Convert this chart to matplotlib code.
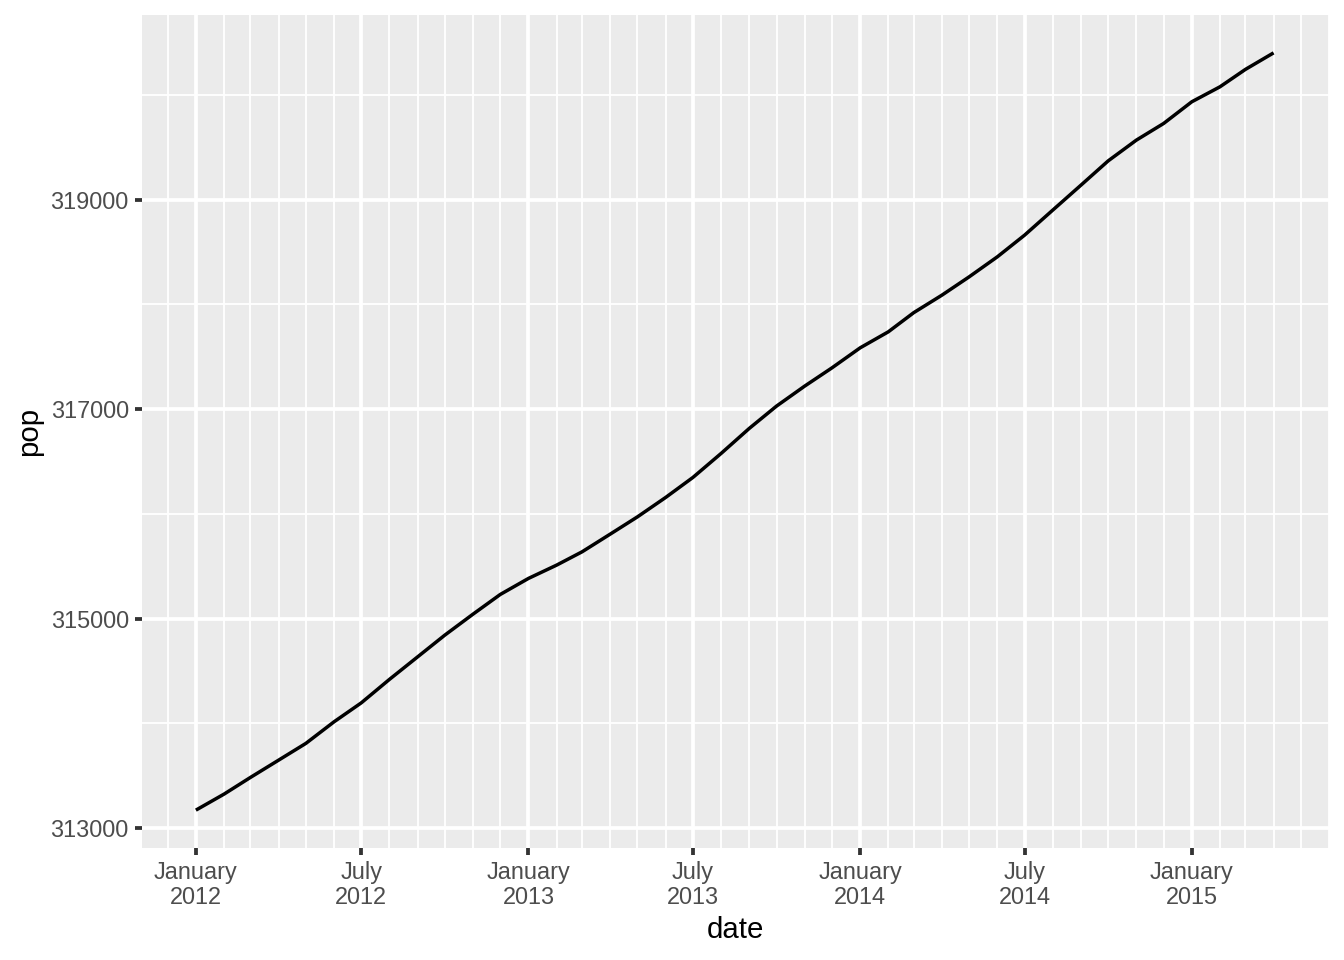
import matplotlib
matplotlib.use("Agg")
import matplotlib.pyplot as plt
import matplotlib.dates as mdates
import pandas as pd
import numpy as np

# ---- data ----
months = pd.date_range("2012-01-01", "2015-04-01", freq="MS")
pop = [313172, 313325, 313484, 313649, 313809, 314015, 314196, 314420,
       314635, 314843, 315043, 315231, 315384, 315511, 315638, 315807,
       315972, 316157, 316348, 316577, 316816, 317029, 317220, 317394,
       317585, 317738, 317921, 318088, 318263, 318454, 318661, 318900,
       319138, 319370, 319568, 319727, 319934, 320077, 320243, 320401]
x_major = pd.to_datetime(["2012-01-01", "2012-07-01", "2013-01-01", "2013-07-01",
                          "2014-01-01", "2014-07-01", "2015-01-01"])
x_labels = ["January\n2012", "July\n2012", "January\n2013", "July\n2013",
            "January\n2014", "July\n2014", "January\n2015"]
x_minor = pd.date_range("2011-12-01", "2015-06-01", freq="MS")
y_major = [313000, 315000, 317000, 319000]
y_minor = [314000, 316000, 318000, 320000]
x_title = "date"
y_title = "pop"

plt.rcParams["font.family"] = ["Liberation Sans", "DejaVu Sans"]
pt = 72.27 / 25.4  # ggplot mm -> pt

fig = plt.figure(figsize=(7, 5), dpi=192)
ax = fig.add_axes([142/1344, 1 - 848/960, (1329-142)/1344, (848-15)/960])
ax.set_facecolor("#EBEBEB")
for s in ax.spines.values():
    s.set_visible(False)

ax.plot(months, pop, color="black", lw=1.3, solid_capstyle="butt", zorder=3)
ax.margins(x=0.05, y=0.05)

ax.set_xticks(x_major)
ax.set_xticklabels(x_labels, linespacing=1.1)
ax.set_xticks(x_minor, minor=True)
ax.set_yticks(y_major)
ax.set_yticklabels([str(v) for v in y_major])
ax.set_yticks(y_minor, minor=True)

ax.grid(which="major", color="white", lw=0.5*pt)
ax.grid(which="minor", color="white", lw=0.25*pt)
ax.set_axisbelow(True)

ax.tick_params(which="major", length=2.75, width=0.5*pt, color="#333333",
               labelsize=8.8, labelcolor="#4D4D4D", pad=2.2)
ax.tick_params(which="minor", length=0)

ax.set_xlabel(x_title, fontsize=11, color="black", labelpad=2.75)
ax.set_ylabel(y_title, fontsize=11, color="black", labelpad=2.75)

fig.savefig("out.png", dpi=192)
